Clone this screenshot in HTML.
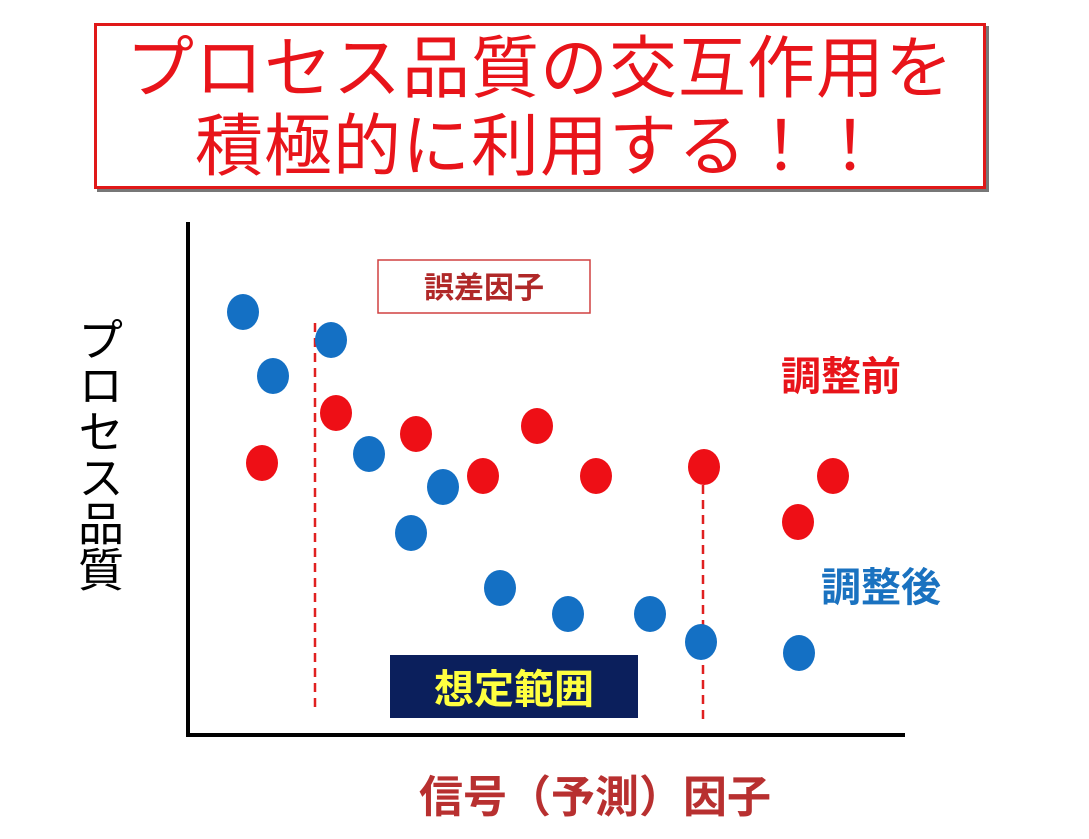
<!DOCTYPE html>
<html><head><meta charset="utf-8"><style>
body{margin:0;background:#fff;width:1089px;height:839px;overflow:hidden;position:relative;font-family:"Liberation Sans","Noto Sans CJK JP",sans-serif}
.title{position:absolute;left:94px;top:23px;width:892px;height:166px;border:3px solid #e01818;box-shadow:3px 3px 0 #777;text-align:center;color:#e8141a;font-size:68px;font-weight:400;line-height:78px;padding-top:4px;box-sizing:border-box;letter-spacing:1px}
</style></head><body>
<div class="title">プロセス品質の交互作用を<br>積極的に利用する！！</div>
<svg id="chart" width="1089" height="839" style="position:absolute;left:0;top:0">
<line x1="188" y1="222" x2="188" y2="736" stroke="#000" stroke-width="4"/>
<line x1="186" y1="735" x2="905" y2="735" stroke="#000" stroke-width="4"/>
<rect x="378" y="260" width="212" height="53" fill="#fff" stroke="#d04040" stroke-width="1.5"/>
<text x="484" y="298" text-anchor="middle" font-size="30" font-weight="bold" fill="#b02828" font-family="Liberation Sans,Noto Sans CJK JP,sans-serif">誤差因子</text>
<rect x="390" y="655" width="248" height="63" fill="#0b1f5c"/>
<text x="514" y="703" text-anchor="middle" font-size="40" font-weight="bold" fill="#ffff40" font-family="Liberation Sans,Noto Sans CJK JP,sans-serif">想定範囲</text>
<text x="841" y="390" text-anchor="middle" font-size="40" font-weight="bold" fill="#e8141a" font-family="Liberation Sans,Noto Sans CJK JP,sans-serif">調整前</text>
<text x="881" y="601" text-anchor="middle" font-size="40" font-weight="bold" fill="#1a72c0" font-family="Liberation Sans,Noto Sans CJK JP,sans-serif">調整後</text>
<text x="595" y="812" text-anchor="middle" font-size="44" font-weight="bold" fill="#b83030" font-family="Liberation Sans,Noto Sans CJK JP,sans-serif">信号（予測）因子</text>
<text x="98" y="316" font-size="46" fill="#000" style="writing-mode:vertical-rl" font-family="Liberation Sans,Noto Sans CJK JP,sans-serif">プロセス品質</text>
</svg>
<script>
const dashX=[1.27,5.15];
const dashTop=[4.12,2.65];
const dashBottom=[0.23,0.13];
const blueX=[0.55,0.85,1.43,1.81,2.55,2.23,3.12,3.80,4.62,5.13,6.11];
const blueY=[4.23,3.59,3.95,2.81,2.48,2.02,1.47,1.21,1.21,0.93,0.82];
const redX=[0.74,1.48,2.28,2.95,3.49,4.08,5.16,6.10,6.45];
const redY=[2.72,3.22,3.01,2.59,3.09,2.59,2.68,2.13,2.59];
const xs=v=>188+v*100, ys=v=>735-v*100;
const svg=document.getElementById('chart');
const NS='http://www.w3.org/2000/svg';
dashX.forEach((d,i)=>{
 const l=document.createElementNS(NS,'line');
 l.setAttribute('x1',xs(d));l.setAttribute('x2',xs(d));
 l.setAttribute('y1',ys(dashTop[i]));l.setAttribute('y2',ys(dashBottom[i]));
 l.setAttribute('stroke','#e02020');l.setAttribute('stroke-width','2.5');l.setAttribute('stroke-dasharray','9 6');
 
 
 svg.appendChild(l);
});
function dots(X,Y,c,name){X.forEach((x,i)=>{
 const e=document.createElementNS(NS,'ellipse');
 e.setAttribute('cx',xs(x));e.setAttribute('cy',ys(Y[i]));e.setAttribute('rx',16);e.setAttribute('ry',18);e.setAttribute('fill',c);
 
 
 svg.appendChild(e);
});}
dots(redX,redY,'#ee0f16','point-before');
dots(blueX,blueY,'#1470c4','point-after');
</script>
</body></html>
